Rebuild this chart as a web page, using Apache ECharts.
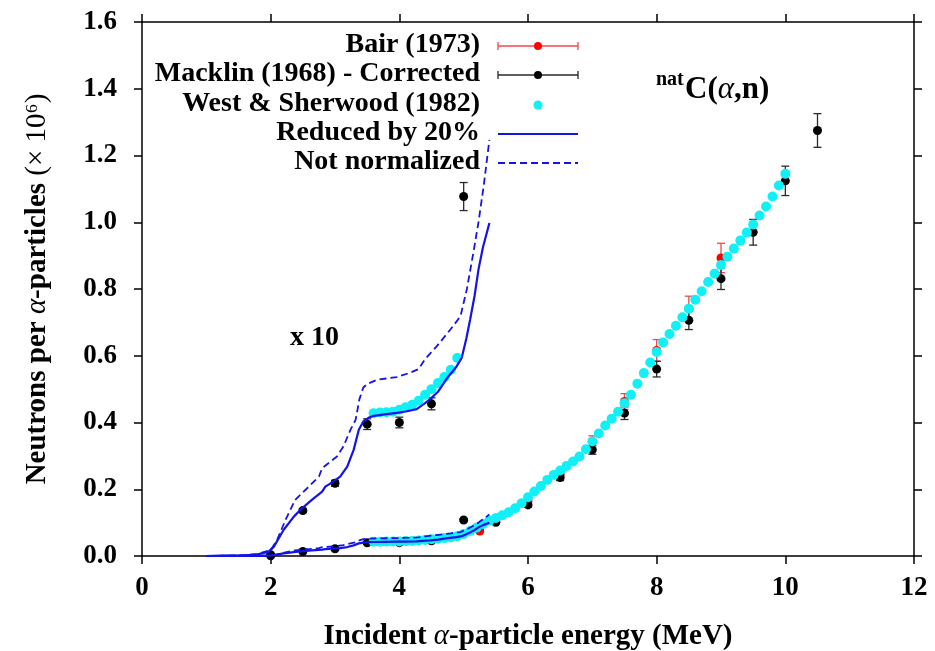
<!DOCTYPE html>
<html>
<head>
<meta charset="utf-8">
<title>natC(alpha,n) neutron yield</title>
<script src="https://cdn.jsdelivr.net/npm/echarts@6/dist/echarts.min.js"></script>
<style>
  html, body { margin: 0; padding: 0; background: #fff; }
  #chart { width: 935px; height: 651px; }
</style>
</head>
<body>
<div id="chart"></div>
<script>
// yields in units of 1e6 neutrons per alpha, energies in MeV
var bairE   = [5.25, 5.5, 6.0, 6.5, 7.0, 7.5, 8.0, 8.5, 9.0];
var bairY   = [0.075, 0.108, 0.165, 0.244, 0.343, 0.463, 0.616, 0.741, 0.893];
var bairErr = [0.004, 0.005, 0.008, 0.012, 0.017, 0.0235, 0.0325, 0.0375, 0.044];

var macklinE   = [2.0, 2.5, 3.0, 3.5, 4.0, 4.5, 5.0, 5.5, 6.0, 6.5, 7.0, 7.5, 8.0, 8.5, 9.0, 9.5, 10.0, 10.5];
var macklinY   = [0.0004, 0.0136, 0.0218, 0.0395, 0.0400, 0.0456, 0.1077, 0.101, 0.153, 0.235, 0.318, 0.428, 0.560, 0.706, 0.831, 0.970, 1.124, 1.275];
var macklinErr = [0.0001, 0.0006, 0.0009, 0.0016, 0.0016, 0.0018, 0.0042, 0.004, 0.006, 0.009, 0.013, 0.019, 0.0235, 0.0275, 0.0325, 0.0385, 0.044, 0.0505];

var westE = [3.6, 3.7, 3.8, 3.9, 4.0, 4.1, 4.2, 4.3, 4.4, 4.5, 4.6, 4.7, 4.8, 4.9,
  5.0, 5.1, 5.2, 5.3, 5.4, 5.5, 5.6, 5.7, 5.8, 5.9, 6.0, 6.1, 6.2, 6.3, 6.4, 6.5,
  6.6, 6.7, 6.8, 6.9, 7.0, 7.1, 7.2, 7.3, 7.4, 7.5, 7.6, 7.7, 7.8, 7.9, 8.0, 8.1,
  8.2, 8.3, 8.4, 8.5, 8.6, 8.7, 8.8, 8.9, 9.0, 9.1, 9.2, 9.3, 9.4, 9.5, 9.6, 9.7,
  9.8, 9.9, 10.0];
var westY = [0.0428, 0.0430, 0.0431, 0.0432, 0.0438, 0.0446, 0.0453, 0.0465, 0.0483, 0.0500, 0.0518, 0.0536, 0.0558, 0.0593,
  0.066, 0.075, 0.085, 0.096, 0.106, 0.114, 0.122, 0.131, 0.143, 0.158, 0.176, 0.193, 0.210, 0.228, 0.243, 0.256,
  0.270, 0.283, 0.298, 0.320, 0.343, 0.367, 0.391, 0.411, 0.432, 0.458, 0.483, 0.516, 0.548, 0.580, 0.611, 0.640,
  0.665, 0.690, 0.715, 0.741, 0.768, 0.793, 0.821, 0.846, 0.872, 0.897, 0.921, 0.945, 0.969, 0.993, 1.020, 1.047,
  1.077, 1.110, 1.145];

// calculation, reduced by 20%
var reducedE = [1.0, 1.3, 1.6, 1.8, 1.97, 2.05, 2.2, 2.36, 2.46, 2.64, 2.8, 2.85, 2.95, 3.08, 3.19, 3.29, 3.37, 3.44,
  3.52, 3.6, 3.8, 3.96, 4.1, 4.27, 4.4, 4.48, 4.6, 4.75, 4.89, 4.97, 5.04, 5.1, 5.17, 5.23, 5.3, 5.4];
var reducedY = [0, 0.0001, 0.0002, 0.0005, 0.0013, 0.0028, 0.0078, 0.0118, 0.0138, 0.0168, 0.0193, 0.0208, 0.0220, 0.0238,
  0.0268, 0.0318, 0.0378, 0.0403, 0.0414, 0.0420, 0.0425, 0.0429, 0.0433, 0.0440, 0.0458, 0.0470, 0.0492, 0.0535,
  0.0568, 0.0594, 0.0650, 0.0708, 0.0780, 0.0858, 0.0925, 0.0998];

// calculation, not normalized
var notNormE = [1.0, 1.3, 1.6, 1.8, 2.0, 2.1, 2.23, 2.38, 2.46, 2.62, 2.75, 2.8, 2.93, 3.03, 3.13, 3.24, 3.32, 3.38,
  3.44, 3.5, 3.65, 3.96, 4.15, 4.3, 4.4, 4.58, 4.8, 4.95, 5.05, 5.15, 5.23, 5.31, 5.4];
var notNormY = [0, 0.0001, 0.0003, 0.0006, 0.0018, 0.0048, 0.0108, 0.0168, 0.0183, 0.0213, 0.0238, 0.0263, 0.0283, 0.0298,
  0.0328, 0.0378, 0.0408, 0.0470, 0.0505, 0.0515, 0.0528, 0.0536, 0.0548, 0.0560, 0.0590, 0.0628, 0.0680, 0.0718,
  0.0800, 0.0908, 0.1000, 0.1107, 0.1247];

// low-energy part is repeated magnified
var MAGNIFY = 10;
var MACKLIN_MAG_MAX = 5.0;
var WEST_MAG_MAX = 4.9;

var yTicks = [0, 0.2, 0.4, 0.6, 0.8, 1.0, 1.2, 1.4, 1.6];

var FONT = '"Liberation Serif", "Times New Roman", serif';
var RED = '#ff0000', RED_BAR = '#f04848';
var BLACK = '#000000', BLACK_BAR = '#2a2a2a';
var CYAN = '#10f0f6';
var BLUE = '#1414e6';

function pairs(xs, ys, k, maxX) {
  var out = [];
  for (var i = 0; i < xs.length; i++) {
    if (maxX != null && xs[i] > maxX + 1e-9) continue;
    out.push([xs[i], ys[i] * k]);
  }
  return out;
}
function triples(xs, ys, es, k, maxX) {
  var out = [];
  for (var i = 0; i < xs.length; i++) {
    if (maxX != null && xs[i] > maxX + 1e-9) continue;
    out.push([xs[i], ys[i] * k, es[i] * k]);
  }
  return out;
}

function errorBars(data, color, z) {
  return {
    type: 'custom',
    data: data,
    z: z,
    encode: { x: 0, y: 1 },
    renderItem: function (params, api) {
      var x = api.value(0), y = api.value(1), e = api.value(2);
      var hi = api.coord([x, y + e]);
      var lo = api.coord([x, y - e]);
      var hw = 4;
      var st = { stroke: color, lineWidth: 1.3 };
      return {
        type: 'group',
        children: [
          { type: 'line', shape: { x1: hi[0], y1: hi[1], x2: lo[0], y2: lo[1] }, style: st },
          { type: 'line', shape: { x1: hi[0] - hw, y1: hi[1], x2: hi[0] + hw, y2: hi[1] }, style: st },
          { type: 'line', shape: { x1: lo[0] - hw, y1: lo[1], x2: lo[0] + hw, y2: lo[1] }, style: st }
        ]
      };
    }
  };
}

function dots(data, color, size, z) {
  return {
    type: 'scatter', data: data, z: z,
    symbol: 'circle', symbolSize: size,
    itemStyle: { color: color, opacity: 1 }
  };
}

function curve(data, dashed, z) {
  return {
    type: 'line', data: data, z: z,
    showSymbol: false, smooth: false,
    lineStyle: { color: BLUE, width: dashed ? 1.8 : 2.2, type: dashed ? [7, 4] : 'solid' }
  };
}

var axisLine = { show: true, onZero: false, lineStyle: { color: '#000', width: 1.5 } };
var axisTick = { show: true, inside: false, length: 8, lineStyle: { color: '#000', width: 1.5 } };
var labelStyle = { fontFamily: FONT, fontWeight: 'bold', fontSize: 27, color: '#000' };

// legend, drawn at the upper left like the original
var legendX = 480, symL = 498, symR = 578, symC = 538;
var legendRows = [
  { text: 'Bair (1973)', y: 45, kind: 'err', color: RED, bar: RED_BAR },
  { text: 'Macklin (1968) - Corrected', y: 74, kind: 'err', color: BLACK, bar: BLACK_BAR },
  { text: 'West & Sherwood (1982)', y: 104, kind: 'dot', color: CYAN },
  { text: 'Reduced by 20%', y: 133, kind: 'solid', color: BLUE },
  { text: 'Not normalized', y: 162, kind: 'dash', color: BLUE }
];
var legendGraphics = [];
legendRows.forEach(function (r) {
  legendGraphics.push({
    type: 'text', x: legendX, y: r.y,
    style: { text: r.text, align: 'right', verticalAlign: 'middle', font: 'bold 28px ' + FONT, fill: '#000' }
  });
  var sy = r.y + 1;
  if (r.kind === 'err') {
    var st = { stroke: r.bar, lineWidth: 1.3 };
    legendGraphics.push({ type: 'line', shape: { x1: symL, y1: sy, x2: symR, y2: sy }, style: st });
    legendGraphics.push({ type: 'line', shape: { x1: symL, y1: sy - 4, x2: symL, y2: sy + 4 }, style: st });
    legendGraphics.push({ type: 'line', shape: { x1: symR, y1: sy - 4, x2: symR, y2: sy + 4 }, style: st });
    legendGraphics.push({ type: 'circle', shape: { cx: symC, cy: sy, r: 4 }, style: { fill: r.color } });
  } else if (r.kind === 'dot') {
    legendGraphics.push({ type: 'circle', shape: { cx: symC, cy: sy, r: 4.5 }, style: { fill: r.color } });
  } else {
    legendGraphics.push({
      type: 'line', shape: { x1: symL, y1: sy, x2: symR, y2: sy },
      style: { stroke: r.color, lineWidth: r.kind === 'dash' ? 1.8 : 2.2, lineDash: r.kind === 'dash' ? [7, 4] : null }
    });
  }
});

var annotations = [
  { type: 'text', x: 290, y: 338,
    style: { text: 'x 10', verticalAlign: 'middle', font: 'bold 28px ' + FONT, fill: '#000' } },
  { type: 'text', x: 656, y: 80,
    style: { text: 'nat', verticalAlign: 'middle', font: 'bold 20px ' + FONT, fill: '#000' } },
  { type: 'text', x: 685, y: 90,
    style: {
      text: '{b|C(}{a|α}{b|,n)}', verticalAlign: 'middle',
      rich: {
        b: { fontFamily: FONT, fontWeight: 'bold', fontSize: 31, color: '#000' },
        a: { fontFamily: FONT, fontStyle: 'italic', fontSize: 31, color: '#000' }
      }
    } }
];

var chart = echarts.init(document.getElementById('chart'), null, { renderer: 'canvas' });

chart.setOption({
  animation: false,
  backgroundColor: '#fff',
  grid: { left: 142, right: 21, top: 22, bottom: 95, containLabel: false, outerBoundsMode: 'none' },
  xAxis: [
    {
      type: 'value', position: 'bottom', min: 0, max: 12, interval: 2,
      axisLine: axisLine, axisTick: axisTick, splitLine: { show: false },
      axisLabel: Object.assign({ margin: 19 }, labelStyle),
      name: '{b|Incident }{a|α}{b|-particle energy (MeV)}',
      nameLocation: 'middle', nameGap: 66,
      nameTextStyle: {
        rich: {
          b: { fontFamily: FONT, fontWeight: 'bold', fontSize: 29, color: '#000' },
          a: { fontFamily: FONT, fontStyle: 'italic', fontSize: 29, color: '#000' }
        }
      }
    },
    {
      type: 'value', position: 'top', min: 0, max: 12, interval: 2,
      axisLine: axisLine, axisTick: axisTick, splitLine: { show: false },
      axisLabel: { show: false }
    }
  ],
  yAxis: [
    {
      type: 'value', position: 'left', min: yTicks[0], max: yTicks[yTicks.length - 1], interval: 0.2,
      axisLine: axisLine, axisTick: axisTick, splitLine: { show: false },
      axisLabel: Object.assign({ margin: 25, formatter: function (v) { return v.toFixed(1); } }, labelStyle),
      name: '{b|Neutrons per }{a|α}{b|-particles }{n|(× 10⁶)}',
      nameLocation: 'middle', nameGap: 90,
      nameTextStyle: {
        rich: {
          b: { fontFamily: FONT, fontWeight: 'bold', fontSize: 29, color: '#000' },
          a: { fontFamily: FONT, fontStyle: 'italic', fontSize: 29, color: '#000' },
          n: { fontFamily: FONT, fontSize: 29, color: '#000' }
        }
      }
    },
    {
      type: 'value', position: 'right', min: yTicks[0], max: yTicks[yTicks.length - 1], interval: 0.2,
      axisLine: axisLine, axisTick: axisTick, splitLine: { show: false },
      axisLabel: { show: false }
    }
  ],
  graphic: legendGraphics.concat(annotations),
  series: [
    errorBars(triples(bairE, bairY, bairErr, 1), RED_BAR, 2),
    dots(pairs(bairE, bairY, 1), RED, 9, 3),
    errorBars(triples(macklinE, macklinY, macklinErr, 1), BLACK_BAR, 4),
    errorBars(triples(macklinE, macklinY, macklinErr, MAGNIFY, MACKLIN_MAG_MAX), BLACK_BAR, 4),
    dots(pairs(macklinE, macklinY, 1), BLACK, 9, 5),
    dots(pairs(macklinE, macklinY, MAGNIFY, MACKLIN_MAG_MAX), BLACK, 9, 5),
    dots(pairs(westE, westY, 1), CYAN, 10, 6),
    dots(pairs(westE, westY, MAGNIFY, WEST_MAG_MAX), CYAN, 10, 6),
    curve(pairs(reducedE, reducedY, 1), false, 7),
    curve(pairs(reducedE, reducedY, MAGNIFY), false, 7),
    curve(pairs(notNormE, notNormY, 1), true, 8),
    curve(pairs(notNormE, notNormY, MAGNIFY), true, 8)
  ]
});
</script>
</body>
</html>
